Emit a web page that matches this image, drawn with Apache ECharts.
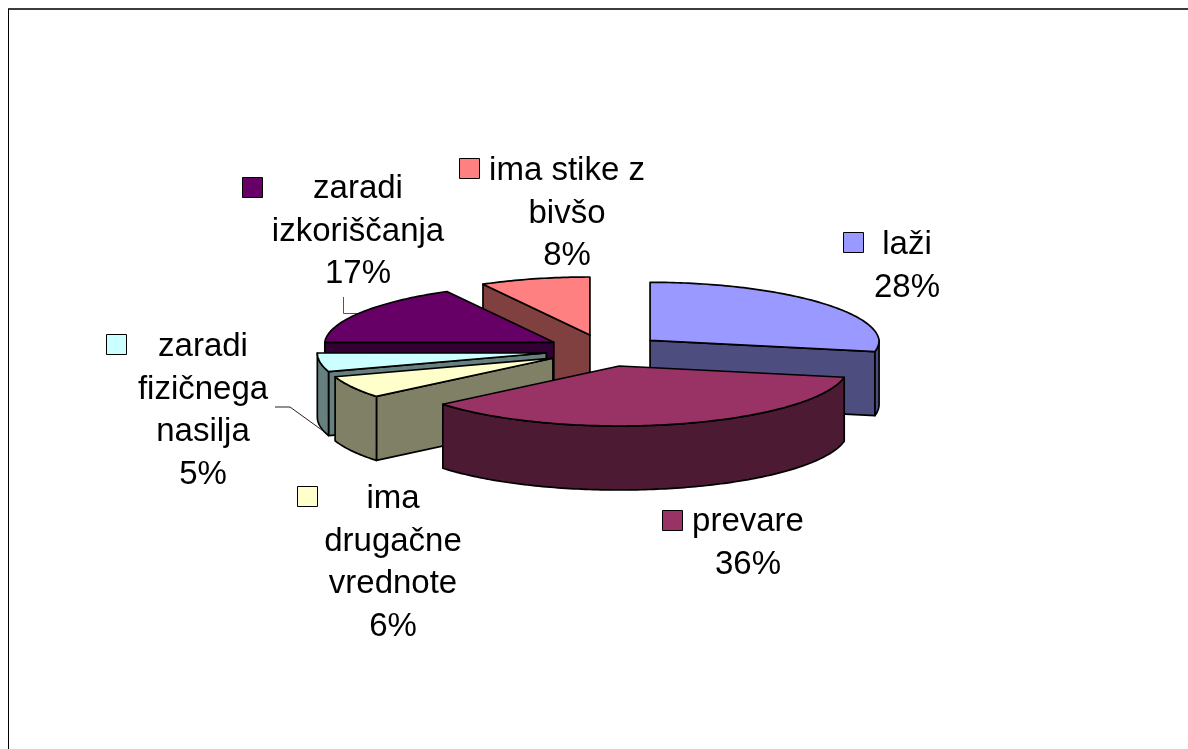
<!DOCTYPE html>
<html>
<head>
<meta charset="utf-8">
<title>pie</title>
<script src="https://cdn.jsdelivr.net/npm/echarts@6/dist/echarts.min.js"></script>
<style>
html, body { margin: 0; padding: 0; background: #fff; }
#chart { width: 1188px; height: 749px; }
</style>
</head>
<body>
<div id="chart"></div>
<script>
// data
const categories = ["laži", "prevare", "ima\ndrugačne\nvrednote", "zaradi\nfizičnega\nnasilja", "zaradi\nizkoriščanja", "ima stike z\nbivšo"];
const percents = [28, 36, 6, 5, 17, 8];

// styles, one per slice
const topColors = ["#9999ff", "#993366", "#ffffcc", "#ccffff", "#660066", "#ff8080"];
const sideColors = ["#4d4d80", "#4d1a33", "#808066", "#668080", "#330033", "#804040"];
// back to front
const drawOrder = [5, 4, 0, 3, 2, 1];
// label centre [x, y of first line], legend key [x, y]
const labelPos = [[907, 245], [748, 522], [393, 499], [203, 347], [358, 189], [567, 171]];
const keyPos = [[843.5, 232.5], [662.5, 510.5], [297.5, 486.5], [106.5, 334.5], [242.5, 177.5], [459.5, 158.5]];

// pie geometry
const cx = 604.6, cy = 350.5, rx = 229, ryFront = 60, ryBack = 58, depth = 64;
const explodeX = 59, explodeY = 16;
const lineH = 42.5;
const total = percents.reduce((a, b) => a + b, 0);

const rad = (d) => (d * Math.PI) / 180;

function renderSlice(params, api) {
  const i = api.value(0);
  const v = api.value(1);
  let before = 0;
  for (let k = 0; k < i; k++) before += percents[k];
  const a = (before / total) * 360;
  const b = ((before + v) / total) * 360;
  const mid = rad((a + b) / 2);
  const ax = cx + Math.sin(mid) * explodeX;
  const ay = cy - Math.cos(mid) * explodeY;
  // the far side of the pie is a little smaller, like the perspective in the original
  const pt = (deg) => {
    const s = Math.sin(rad(deg)), c = Math.cos(rad(deg));
    const far = Math.max(c, 0);
    return [ax + s * rx * (1 - 0.035 * far), ay - c * (c > 0 ? ryBack : ryFront)];
  };
  const down = (p) => [p[0], p[1] + depth];
  const arc = (from, to) => {
    const pts = [];
    const n = Math.max(2, Math.ceil(to - from));
    for (let k = 0; k <= n; k++) pts.push(pt(from + ((to - from) * k) / n));
    return pts;
  };
  const stroke = { stroke: "#000", lineWidth: 1.7, lineJoin: "round" };
  const kids = [];
  const face = (points, fill) => {
    kids.push({ type: "polygon", shape: { points: points }, style: Object.assign({ fill: fill }, stroke) });
  };
  const apex = [ax, ay];
  // cut faces looking at the viewer
  if (a >= 180) face([apex, pt(a), down(pt(a)), down(apex)], sideColors[i]);
  if (b <= 180) face([apex, pt(b), down(pt(b)), down(apex)], sideColors[i]);
  // outer rim, front half only
  const from = Math.max(a, 90), to = Math.min(b, 270);
  if (to > from) {
    const top = arc(from, to);
    face(top.concat(top.map(down).reverse()), sideColors[i]);
  }
  // top face
  face([apex].concat(arc(a, b)), topColors[i]);
  // legend key and label
  kids.push({
    type: "rect",
    shape: { x: keyPos[i][0], y: keyPos[i][1], width: 20, height: 20 },
    style: { fill: topColors[i], stroke: "#000", lineWidth: 1 },
  });
  kids.push({
    type: "text",
    z2: 10,
    style: {
      text: categories[i] + "\n" + v + "%",
      x: labelPos[i][0],
      y: labelPos[i][1] - lineH / 2,
      align: "center",
      verticalAlign: "top",
      fill: "#000",
      font: '33px "Liberation Sans", Arial, sans-serif',
      lineHeight: lineH,
    },
  });
  return { type: "group", children: kids };
}

const chart = echarts.init(document.getElementById("chart"), null, { renderer: "canvas" });
chart.setOption({
  animation: false,
  backgroundColor: "#fff",
  graphic: [
    // chart frame: only top and left are in the picture
    { type: "line", shape: { x1: 8, y1: 9, x2: 1188, y2: 9 }, style: { stroke: "#3c3c3c", lineWidth: 2 } },
    { type: "line", shape: { x1: 8.5, y1: 9, x2: 8.5, y2: 749 }, style: { stroke: "#000", lineWidth: 1 } },
    // leader lines
    { type: "polyline", shape: { points: [[343.5, 297], [343.5, 313.5], [358, 313.5]] }, style: { fill: null, stroke: "#555", lineWidth: 1 } },
    { type: "polyline", shape: { points: [[275, 407], [290, 407], [326, 433]] }, style: { fill: null, stroke: "#222", lineWidth: 1 } },
  ],
  series: [
    {
      type: "custom",
      coordinateSystem: "none",
      renderItem: renderSlice,
      silent: true,
      data: drawOrder.map((i) => [i, percents[i]]),
    },
  ],
});
</script>
</body>
</html>
